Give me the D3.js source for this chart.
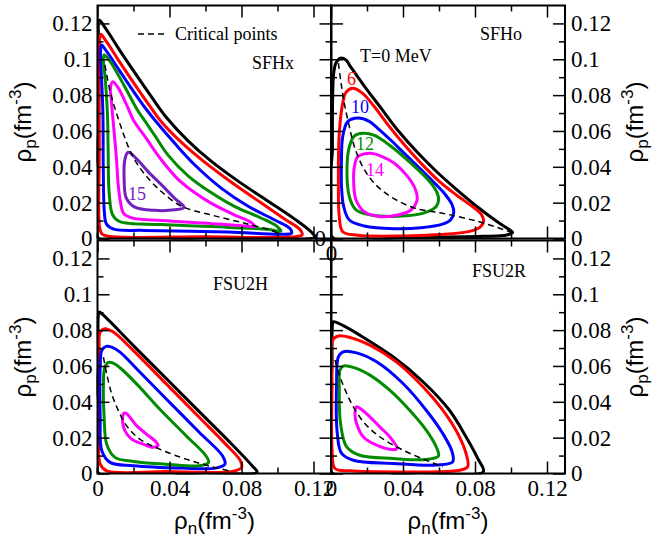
<!DOCTYPE html>
<html>
<head>
<meta charset="utf-8">
<script src="https://cdn.jsdelivr.net/npm/d3@7/dist/d3.min.js"></script>
<style>
  body { margin: 0; background: #fff; }
  svg { display: block; }
</style>
</head>
<body>
<div id="chart"></div>
<script>
// Spinodal contours in the (rho_n, rho_p) plane, four models, several temperatures.

const temperatures = [0, 6, 10, 12, 14, 15];
const tempColors = ["#000000", "#ff0000", "#0000ff", "#008b00", "#ff00ff", "#7221bc"];

const yMajorTicks = [0, 0.02, 0.04, 0.06, 0.08, 0.1, 0.12];
const yMinorTicks = [0.01, 0.03, 0.05, 0.07, 0.09, 0.11];
const xMajorTicks = [0, 0.04, 0.08, 0.12];
const xMinorTicks = [0.02, 0.06, 0.1];

// SFHx
const sfhxT0 = [[0.0004,0.0004],[0.0004,0.06],[0.0005,0.112],[0.0009,0.1219],[0.0045,0.1172],[0.012,0.1055],[0.0207,0.0925],[0.03,0.079],[0.0383,0.0675],[0.0503,0.0545],[0.0633,0.043],[0.0781,0.032],[0.0948,0.0208],[0.1096,0.0108],[0.1189,0.0035],[0.1207,0.0008],[0.06,0.0004]];
const sfhxT6 = [[0.0018,0.1139],[0.005,0.1098],[0.012,0.099],[0.02,0.087],[0.029,0.074],[0.0356,0.065],[0.0462,0.054],[0.059,0.043],[0.0738,0.0318],[0.09,0.0205],[0.1045,0.0105],[0.1125,0.005],[0.1137,0.0022],[0.11,0.001],[0.06,0.001],[0.006,0.0012],[0.0025,0.0025],[0.0012,0.006],[0.001,0.05],[0.001,0.1],[0.0012,0.111]];
const sfhxT10 = [[0.0022,0.108],[0.005,0.1045],[0.011,0.0955],[0.018,0.085],[0.026,0.0735],[0.0318,0.0661],[0.0429,0.0531],[0.0541,0.041],[0.0689,0.028],[0.0837,0.018],[0.0985,0.0103],[0.1068,0.0057],[0.1078,0.003],[0.1022,0.0024],[0.0726,0.0036],[0.0263,0.0045],[0.009,0.0052],[0.005,0.008],[0.0038,0.015],[0.0032,0.04],[0.003,0.07],[0.002,0.095],[0.0017,0.104]];
const sfhxT12 = [[0.0037,0.1024],[0.0065,0.0995],[0.015,0.085],[0.022,0.072],[0.0272,0.0643],[0.0318,0.0575],[0.0392,0.0465],[0.0503,0.035],[0.0633,0.0255],[0.0763,0.0178],[0.0911,0.0113],[0.0994,0.007],[0.1018,0.004],[0.0948,0.0051],[0.0726,0.0062],[0.0356,0.0078],[0.0124,0.0094],[0.0085,0.013],[0.0065,0.025],[0.0059,0.05],[0.0055,0.07],[0.0042,0.09],[0.0033,0.099]];
const sfhxT14 = [[0.0085,0.0875],[0.0115,0.084],[0.016,0.075],[0.02,0.066],[0.027,0.056],[0.035,0.0445],[0.0448,0.033],[0.0541,0.0255],[0.0633,0.0196],[0.0763,0.0131],[0.085,0.0092],[0.0874,0.0066],[0.0837,0.0068],[0.0633,0.0083],[0.0356,0.01],[0.019,0.0115],[0.0145,0.014],[0.0128,0.02],[0.0115,0.03],[0.0105,0.045],[0.009,0.062],[0.0075,0.079],[0.0072,0.084]];
const sfhxT15 = [[0.017,0.0481],[0.0152,0.044],[0.0148,0.033],[0.016,0.0225],[0.0207,0.0175],[0.0318,0.0157],[0.0429,0.016],[0.0481,0.0174],[0.0429,0.0224],[0.0356,0.0299],[0.0281,0.0373],[0.0217,0.0445]];
const sfhxCrit = [[0.0041,0.0968],[0.0068,0.083],[0.01,0.0715],[0.0135,0.061],[0.0172,0.051],[0.0215,0.0425],[0.0281,0.0336],[0.0356,0.0261],[0.0467,0.018],[0.0633,0.0131],[0.0818,0.0085],[0.0985,0.0038],[0.1013,0.0022]];

// SFHo
const sfhoT0 = [[0.0008,0.0006],[0.0008,0.05],[0.0009,0.0773],[0.0015,0.0922],[0.0028,0.0981],[0.0052,0.1006],[0.0083,0.0996],[0.0111,0.0955],[0.0185,0.085],[0.0278,0.0727],[0.037,0.0605],[0.0482,0.0478],[0.0593,0.0367],[0.069,0.028],[0.0809,0.018],[0.092,0.0096],[0.099,0.005],[0.1009,0.0034],[0.0976,0.002],[0.0846,0.0012],[0.04,0.0006]];
const sfhoT6 = [[0.0065,0.0038],[0.0046,0.0122],[0.0041,0.0308],[0.0046,0.0587],[0.0065,0.0754],[0.0083,0.0815],[0.012,0.0838],[0.0176,0.081],[0.0241,0.0735],[0.032,0.063],[0.041,0.052],[0.05,0.042],[0.06,0.032],[0.07,0.024],[0.079,0.0175],[0.0835,0.0135],[0.0848,0.01],[0.083,0.0065],[0.077,0.004],[0.06,0.0022],[0.04,0.0014],[0.0148,0.0018]];
const sfhoT10 = [[0.0093,0.0652],[0.015,0.0672],[0.021,0.0655],[0.026,0.0615],[0.0333,0.0548],[0.042,0.0462],[0.05,0.0385],[0.0575,0.031],[0.0635,0.0245],[0.0672,0.019],[0.0682,0.0145],[0.0665,0.0105],[0.062,0.008],[0.05,0.006],[0.035,0.0055],[0.0185,0.007],[0.0102,0.0103],[0.007,0.018],[0.0058,0.03],[0.0058,0.042],[0.0065,0.0568]];
const sfhoT12 = [[0.013,0.0572],[0.0176,0.0587],[0.0241,0.0575],[0.0333,0.0515],[0.0444,0.042],[0.0537,0.033],[0.0585,0.0265],[0.0598,0.0215],[0.0583,0.0177],[0.0518,0.0143],[0.037,0.0124],[0.0222,0.0131],[0.0139,0.016],[0.0102,0.0233],[0.0089,0.0401],[0.0102,0.0512]];
const sfhoT14 = [[0.0148,0.0456],[0.0185,0.0472],[0.0222,0.0475],[0.0278,0.046],[0.0352,0.042],[0.0426,0.0345],[0.047,0.0271],[0.0478,0.0215],[0.0444,0.0159],[0.037,0.0131],[0.0278,0.0122],[0.0185,0.015],[0.0139,0.0215],[0.0126,0.0308],[0.013,0.0401]];
const sfhoCrit = [[0.0041,0.0978],[0.0056,0.0866],[0.0074,0.0754],[0.0102,0.0624],[0.013,0.0512],[0.0176,0.0401],[0.0241,0.0308],[0.0333,0.0233],[0.0463,0.017],[0.0624,0.014],[0.0809,0.0097],[0.0957,0.005],[0.1004,0.0032]];

// FSU2H
const fsu2hT0 = [[0.0004,0.0004],[0.0004,0.06],[0.0005,0.0885],[0.001,0.0901],[0.0033,0.0883],[0.0198,0.0715],[0.0382,0.053],[0.0565,0.0345],[0.0749,0.016],[0.0859,0.0043],[0.0886,0.0008],[0.06,0.0004]];
const fsu2hT6 = [[0.0051,0.0015],[0.0015,0.0052],[0.0009,0.0314],[0.0009,0.0687],[0.0015,0.0789],[0.0042,0.0808],[0.0088,0.0789],[0.0198,0.0687],[0.0382,0.05],[0.0565,0.0314],[0.0712,0.0164],[0.0794,0.0071],[0.08,0.0034],[0.0749,0.0011],[0.0382,0.0011]];
const fsu2hT10 = [[0.0024,0.0687],[0.0048,0.0709],[0.0079,0.0705],[0.0125,0.0677],[0.0235,0.0566],[0.0382,0.0416],[0.0565,0.023],[0.0694,0.0099],[0.0708,0.0052],[0.0657,0.003],[0.0473,0.003],[0.0198,0.0043],[0.007,0.0062],[0.0024,0.0127],[0.0015,0.0314],[0.0015,0.0593]];
const fsu2hT12 = [[0.004,0.059],[0.006,0.062],[0.009,0.0615],[0.0125,0.059],[0.0217,0.05],[0.0345,0.036],[0.0492,0.0211],[0.0602,0.0099],[0.0617,0.0062],[0.0565,0.0043],[0.0382,0.0052],[0.0198,0.0067],[0.0097,0.009],[0.0051,0.0164],[0.0037,0.0314],[0.0033,0.05]];
const fsu2hT14 = [[0.0147,0.0336],[0.0139,0.0295],[0.0152,0.0239],[0.0189,0.0192],[0.0253,0.0164],[0.0308,0.0146],[0.0336,0.0155],[0.0327,0.0174],[0.0272,0.022],[0.0217,0.0267],[0.018,0.0314],[0.016,0.0336]];
const fsu2hCrit = [[0.0033,0.0649],[0.0051,0.0556],[0.0079,0.0444],[0.0116,0.0351],[0.0161,0.0267],[0.0235,0.0192],[0.0345,0.0136],[0.0492,0.008],[0.0639,0.0037],[0.0749,0.0011]];

// FSU2R
const fsu2rT0 = [[0.0006,0.0004],[0.0006,0.06],[0.0008,0.083],[0.0013,0.0847],[0.0068,0.0825],[0.016,0.0772],[0.0345,0.0651],[0.0511,0.0512],[0.0658,0.0353],[0.075,0.0205],[0.0815,0.0084],[0.0846,0.0009],[0.05,0.0004]];
const fsu2rT6 = [[0.0022,0.0028],[0.0006,0.013],[0.0006,0.0502],[0.0009,0.0744],[0.0041,0.0767],[0.0105,0.0759],[0.0216,0.0716],[0.0363,0.0623],[0.0511,0.0484],[0.0621,0.0353],[0.0704,0.0223],[0.075,0.0112],[0.0759,0.0037],[0.0695,0.0015],[0.0437,0.0009],[0.0105,0.0015]];
const fsu2rT10 = [[0.0041,0.0651],[0.0068,0.0679],[0.0142,0.0673],[0.0253,0.0623],[0.04,0.0502],[0.0529,0.0353],[0.0621,0.0223],[0.0673,0.0121],[0.0676,0.0065],[0.0584,0.0047],[0.0345,0.0056],[0.0124,0.0074],[0.0059,0.0112],[0.0035,0.0223],[0.0031,0.0502]];
const fsu2rT12 = [[0.005,0.0577],[0.0068,0.0599],[0.0124,0.0592],[0.0216,0.0549],[0.0326,0.0465],[0.0437,0.0353],[0.0529,0.0242],[0.0584,0.0149],[0.0597,0.0097],[0.0529,0.0078],[0.0345,0.0084],[0.016,0.0102],[0.0087,0.0149],[0.0053,0.0279],[0.0046,0.0465]];
const fsu2rT14 = [[0.0142,0.0372],[0.0133,0.0335],[0.0142,0.0279],[0.0179,0.0205],[0.0253,0.0158],[0.0345,0.0134],[0.0367,0.014],[0.0326,0.0205],[0.0271,0.026],[0.0216,0.0316],[0.017,0.0357]];
const fsu2rCrit = [[0.0022,0.0633],[0.005,0.054],[0.0087,0.0447],[0.0124,0.0372],[0.0188,0.0279],[0.0271,0.0205],[0.04,0.013],[0.0529,0.0074],[0.0621,0.0037]];

const width = 655;
const height = 542;
const panelW = 234;
const panelH = 233;
const serif = "'Liberation Serif', 'Times New Roman', serif";
const sans = "'Liberation Sans', Arial, sans-serif";

const color = d3.scaleOrdinal().domain(temperatures).range(tempColors);

const panels = [
  {
    model: "SFHx", left: 97.5, top: 5.5,
    contours: [[0, sfhxT0], [6, sfhxT6], [10, sfhxT10], [12, sfhxT12], [14, sfhxT14], [15, sfhxT15]],
    critical: sfhxCrit,
    leftLabels: yMajorTicks, rightLabels: [], bottomLabels: [],
    yTitle: "left", xTitle: false, modelPos: [154.5, 63],
    notes: [{ text: "15", T: 15, x: 30.5, y: 194.5 }],
    legend: true
  },
  {
    model: "SFHo", left: 331, top: 5.5,
    contours: [[0, sfhoT0], [6, sfhoT6], [10, sfhoT10], [12, sfhoT12], [14, sfhoT14]],
    critical: sfhoCrit,
    leftLabels: [0], rightLabels: yMajorTicks, bottomLabels: [0],
    yTitle: "right", xTitle: false, modelPos: [149, 34.5],
    notes: [
      { text: "T=0 MeV", T: 0, x: 29, y: 56.5 },
      { text: "6", T: 6, x: 16, y: 79.5 },
      { text: "10", T: 10, x: 20, y: 107.5 },
      { text: "12", T: 12, x: 25, y: 144.5 },
      { text: "14", T: 14, x: 35, y: 170.5 }
    ]
  },
  {
    model: "FSU2H", left: 97.5, top: 240.5,
    contours: [[0, fsu2hT0], [6, fsu2hT6], [10, fsu2hT10], [12, fsu2hT12], [14, fsu2hT14]],
    critical: fsu2hCrit,
    leftLabels: yMajorTicks, rightLabels: [], bottomLabels: xMajorTicks,
    yTitle: "left", xTitle: true, modelPos: [115.5, 49.5], notes: []
  },
  {
    model: "FSU2R", left: 331, top: 240.5,
    contours: [[0, fsu2rT0], [6, fsu2rT6], [10, fsu2rT10], [12, fsu2rT12], [14, fsu2rT14]],
    critical: fsu2rCrit,
    leftLabels: [], rightLabels: yMajorTicks, bottomLabels: xMajorTicks,
    yTitle: "right", xTitle: true, modelPos: [141, 36.5], notes: []
  }
];

const svg = d3.select("#chart")
  .append("svg")
  .attr("width", width)
  .attr("height", height);

const fmt = (d) => (d === 0 ? "0" : String(d));

// rho with subscript, then (fm^-3)
function rhoTitle(text, sub) {
  text.append("tspan").text("ρ");
  text.append("tspan").attr("font-size", 17).attr("dy", 5).text(sub);
  text.append("tspan").attr("font-size", 24).attr("dy", -5).text("(fm");
  text.append("tspan").attr("font-size", 17).attr("dy", -10).text("-3");
  text.append("tspan").attr("font-size", 24).attr("dy", 10).text(")");
}

function drawPanel(p, i) {
  const x = d3.scaleLinear().domain([0, 0.13]).range([0, panelW]);
  const y = d3.scaleLinear().domain([0, 0.13]).range([panelH, 0]);

  const g = svg.append("g").attr("transform", `translate(${p.left},${p.top})`);

  g.append("clipPath")
    .attr("id", `clip-${i}`)
    .append("rect")
    .attr("x", -1)
    .attr("y", -1)
    .attr("width", panelW + 2)
    .attr("height", panelH + 2);

  const plot = g.append("g").attr("clip-path", `url(#clip-${i})`);

  const loop = d3.line()
    .x((d) => x(d[0]))
    .y((d) => y(d[1]))
    .curve(d3.curveCatmullRomClosed.alpha(0.5));

  const open = d3.line()
    .x((d) => x(d[0]))
    .y((d) => y(d[1]))
    .curve(d3.curveCatmullRom.alpha(0.5));

  plot.selectAll("path.contour")
    .data(p.contours)
    .enter()
    .append("path")
    .attr("class", "contour")
    .attr("d", (d) => loop(d[1]))
    .attr("fill", "none")
    .attr("stroke", (d) => color(d[0]))
    .attr("stroke-width", 3)
    .attr("stroke-linejoin", "round");

  plot.append("path")
    .attr("d", open(p.critical))
    .attr("fill", "none")
    .attr("stroke", "#000")
    .attr("stroke-width", 1.5)
    .attr("stroke-dasharray", "6,4");

  // ticks on all four sides, pointing inward
  const sides = [
    { make: () => d3.axisBottom(x), t: `translate(0,${panelH})`, major: xMajorTicks, minor: xMinorTicks, labels: p.bottomLabels, pad: 6 },
    { make: () => d3.axisTop(x), t: "translate(0,0)", major: xMajorTicks, minor: xMinorTicks, labels: [], pad: 6 },
    { make: () => d3.axisLeft(y), t: "translate(0,0)", major: yMajorTicks, minor: yMinorTicks, labels: p.leftLabels, pad: 5 },
    { make: () => d3.axisRight(y), t: `translate(${panelW},0)`, major: yMajorTicks, minor: yMinorTicks, labels: p.rightLabels, pad: 6 }
  ];

  sides.forEach((s) => {
    const major = g.append("g")
      .attr("transform", s.t)
      .call(
        s.make()
          .tickValues(s.major)
          .tickSize(-12)
          .tickPadding(s.pad)
          .tickFormat((d) => (s.labels.includes(d) ? fmt(d) : ""))
      );
    major.select(".domain").remove();
    major.attr("font-family", serif).attr("font-size", 23);
    major.selectAll("line").attr("stroke-width", 1.5);
    major.selectAll("text").attr("fill", "#000");

    const minor = g.append("g")
      .attr("transform", s.t)
      .call(s.make().tickValues(s.minor).tickSize(-6).tickFormat(""));
    minor.select(".domain").remove();
    minor.selectAll("line").attr("stroke-width", 1.5);
  });

  g.append("rect")
    .attr("width", panelW)
    .attr("height", panelH)
    .attr("fill", "none")
    .attr("stroke", "#000")
    .attr("stroke-width", 2);

  g.append("text")
    .attr("x", p.modelPos[0])
    .attr("y", p.modelPos[1])
    .attr("font-family", serif)
    .attr("font-size", 18)
    .text(p.model);

  g.selectAll("text.note")
    .data(p.notes)
    .enter()
    .append("text")
    .attr("class", "note")
    .attr("x", (d) => d.x)
    .attr("y", (d) => d.y)
    .attr("font-family", serif)
    .attr("font-size", 18)
    .attr("fill", (d) => color(d.T))
    .text((d) => d.text);

  if (p.legend) {
    g.append("line")
      .attr("x1", 40.5)
      .attr("x2", 68)
      .attr("y1", 28.5)
      .attr("y2", 28.5)
      .attr("stroke", "#000")
      .attr("stroke-width", 1.5)
      .attr("stroke-dasharray", "6,4");
    g.append("text")
      .attr("x", 77.5)
      .attr("y", 34)
      .attr("font-family", serif)
      .attr("font-size", 18)
      .text("Critical points");
  }

  if (p.yTitle) {
    const tx = p.yTitle === "left" ? -66.5 : panelW + 78;
    const t = g.append("text")
      .attr("transform", `translate(${tx},${panelH / 2}) rotate(-90)`)
      .attr("text-anchor", "middle")
      .attr("font-family", sans)
      .attr("font-size", 24);
    rhoTitle(t, "p");
  }

  if (p.xTitle) {
    const t = g.append("text")
      .attr("x", panelW / 2)
      .attr("y", panelH + 55.5)
      .attr("text-anchor", "middle")
      .attr("font-family", sans)
      .attr("font-size", 24);
    rhoTitle(t, "n");
  }
}

panels.forEach(drawPanel);
</script>
</body>
</html>
